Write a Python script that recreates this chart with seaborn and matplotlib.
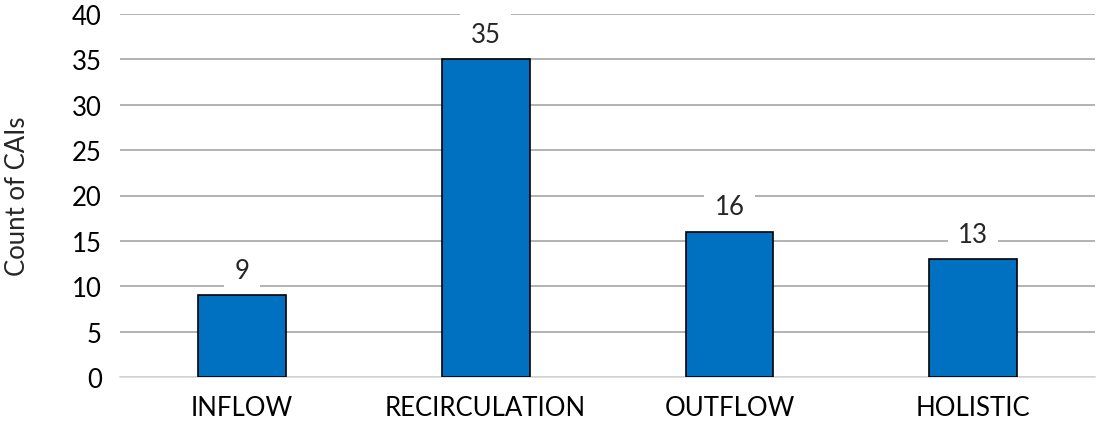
import matplotlib
matplotlib.use("Agg")
import matplotlib.pyplot as plt
import seaborn as sns
import pandas as pd

# data
categories = ["INFLOW", "RECIRCULATION", "OUTFLOW", "HOLISTIC"]
counts = [9, 35, 16, 13]
yticks = [0, 5, 10, 15, 20, 25, 30, 35, 40]

df = pd.DataFrame({"Category": categories, "Count": counts})

sns.set_style("white")
plt.rcParams["font.family"] = ["Lato", "DejaVu Sans"]

fig = plt.figure(figsize=(10.97, 4.27), dpi=100)
ax = fig.add_axes([120 / 1097, 1 - 378 / 427, 975 / 1097, 363 / 427])

sns.barplot(data=df, x="Category", y="Count", color="#0070C0", saturation=1,
            width=0.36, edgecolor="black", linewidth=1.2, ax=ax, zorder=3)

ax.set_ylim(0, 40)
ax.set_xlim(-0.5, 3.5)
ax.set_yticks(yticks)
ax.yaxis.grid(True, color="#A6A6A6", linewidth=1.2, zorder=0)
ax.set_axisbelow(True)
for s in ["top", "right", "left"]:
    ax.spines[s].set_visible(False)
ax.spines["bottom"].set_color("#D9D9D9")
ax.spines["bottom"].set_linewidth(1.2)
ax.tick_params(axis="both", length=0, labelsize=18.5, colors="black")
ax.tick_params(axis="x", pad=13)
ax.tick_params(axis="y", pad=13)
ax.set_xlabel("")
ax.set_ylabel("Count of CAIs", fontsize=18.5, labelpad=30)

# data labels with white boxes over the gridlines
for i, v in enumerate(counts):
    ax.annotate(str(v), (i, v), xytext=(0, 9), textcoords="offset points",
                ha="center", va="bottom", fontsize=18.5, zorder=5,
                bbox=dict(boxstyle="square,pad=0.4", fc="white", ec="none"))

fig.savefig("out.png", dpi=100)
